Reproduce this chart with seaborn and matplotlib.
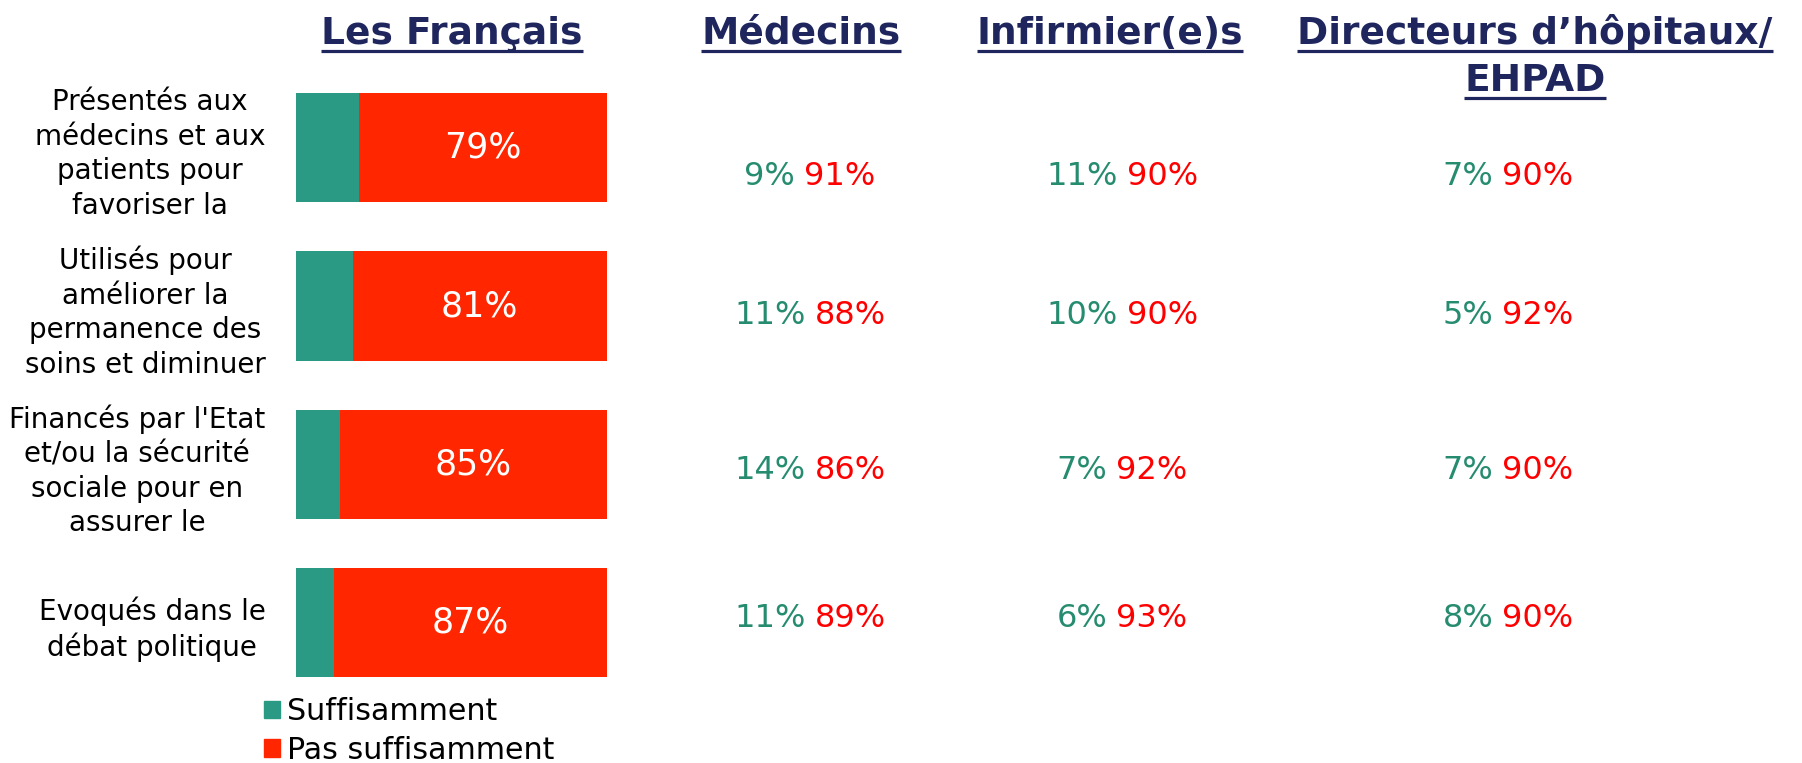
import matplotlib.pyplot as plt
import matplotlib.transforms as mtransforms
from matplotlib.lines import Line2D
from matplotlib.patches import Patch
import pandas as pd
import seaborn as sns

items = [
    "Présentés aux\nmédecins et aux\npatients pour\nfavoriser la",
    "Utilisés pour\naméliorer la\npermanence des\nsoins et diminuer",
    "Financés par l'Etat\net/ou la sécurité\nsociale pour en\nassurer le",
    "Evoqués dans le\ndébat politique",
]
francais_suff = [20, 18, 14, 12]
francais_pas = [79, 81, 85, 87]

groups = ["Médecins", "Infirmier(e)s", "Directeurs d’hôpitaux/\nEHPAD"]
medecins_suff = [9, 11, 14, 11]
medecins_pas = [91, 88, 86, 89]
infirm_suff = [11, 10, 7, 6]
infirm_pas = [90, 90, 92, 93]
direct_suff = [7, 5, 7, 8]
direct_pas = [90, 92, 90, 90]

legend_labels = ["Suffisamment", "Pas suffisamment"]

GREEN = "#2A9A84"
RED = "#FF2600"
GREEN_TXT = "#268C70"
RED_TXT = "#FF0000"
NAVY = "#1F265E"

W, H, DPI = 1802, 763, 100
fig = plt.figure(figsize=(W / DPI, H / DPI), dpi=DPI)
ax = fig.add_axes([296 / W, 1 - 702 / H, 311 / W, (702 - 68.5) / H])

df = pd.DataFrame({"item": items, "suff": francais_suff, "pas": francais_pas})
df["total"] = df["suff"] + df["pas"]

# stacked bars: full total in red, green share drawn over it
sns.barplot(df, x="total", y="item", color=RED, saturation=1, width=0.69,
            linewidth=0, ax=ax)
sns.barplot(df, x="suff", y="item", color=GREEN, saturation=1, width=0.69,
            linewidth=0, ax=ax)

for i, r in df.iterrows():
    ax.text((r["suff"] + r["total"]) / 2, i, f"{r['pas']}%", color="white",
            fontsize=25, ha="center", va="center")

ax.set_xlim(0, df["total"].max())
ax.set_ylim(3.5, -0.5)
ax.set(xlabel="", ylabel="")
ax.set_xticks([])
sns.despine(ax=ax, left=True, bottom=True)
ax.tick_params(axis="y", length=0, pad=22, labelsize=20)
for t in ax.get_yticklabels():
    t.set_multialignment("center")
    t.set_linespacing(1.3)

handles = [Patch(color=GREEN), Patch(color=RED)]
fig.legend(handles, legend_labels, loc="upper left",
           bbox_to_anchor=(264 / W, 1 - 697 / H), frameon=False, fontsize=21.7,
           handlelength=0.52, handleheight=0.52, handletextpad=0.25,
           labelspacing=0.33, borderaxespad=0, borderpad=0)

renderer = fig.canvas.get_renderer()


def title(x, y, s):
    t = fig.text(x / W, 1 - y / H, s, ha="center", va="baseline", fontsize=27,
                 fontweight="bold", color=NAVY)
    bb = t.get_window_extent(renderer)
    uy = (1 - y / H) * H - 6.5
    fig.add_artist(Line2D([bb.x0 / W, bb.x1 / W], [uy / H, uy / H],
                          color=NAVY, lw=2.3, solid_capstyle="butt"))


title(452, 44, "Les Français")
col_x = [810, 1122, 1508]
title_x = [801, 1110, 1535]
for x, g in zip(title_x, groups):
    for k, line in enumerate(g.split("\n")):
        title(x, 44 + k * 47, line)

# two-tone values per column
row_nudge = [0.18, 0.06, 0.04, -0.03]
base = mtransforms.blended_transform_factory(fig.transFigure, ax.transData)
gap = 9
for xc, suff, pas in zip(col_x, [medecins_suff, infirm_suff, direct_suff],
                         [medecins_pas, infirm_pas, direct_pas]):
    for i, (s, p) in enumerate(zip(suff, pas)):
        y = i + row_nudge[i]
        t1 = fig.text(xc / W, y, f"{s}%", color=GREEN_TXT, fontsize=23,
                      ha="left", va="center", transform=base)
        t2 = fig.text(xc / W, y, f"{p}%", color=RED_TXT, fontsize=23,
                      ha="left", va="center", transform=base)
        w1 = t1.get_window_extent(renderer).width
        w2 = t2.get_window_extent(renderer).width
        tot = w1 + gap + w2
        t1.set_transform(base + mtransforms.ScaledTranslation(-tot / 2 / DPI, 0, fig.dpi_scale_trans))
        t2.set_transform(base + mtransforms.ScaledTranslation((-tot / 2 + w1 + gap) / DPI, 0, fig.dpi_scale_trans))

fig.savefig("out.png", dpi=DPI)
